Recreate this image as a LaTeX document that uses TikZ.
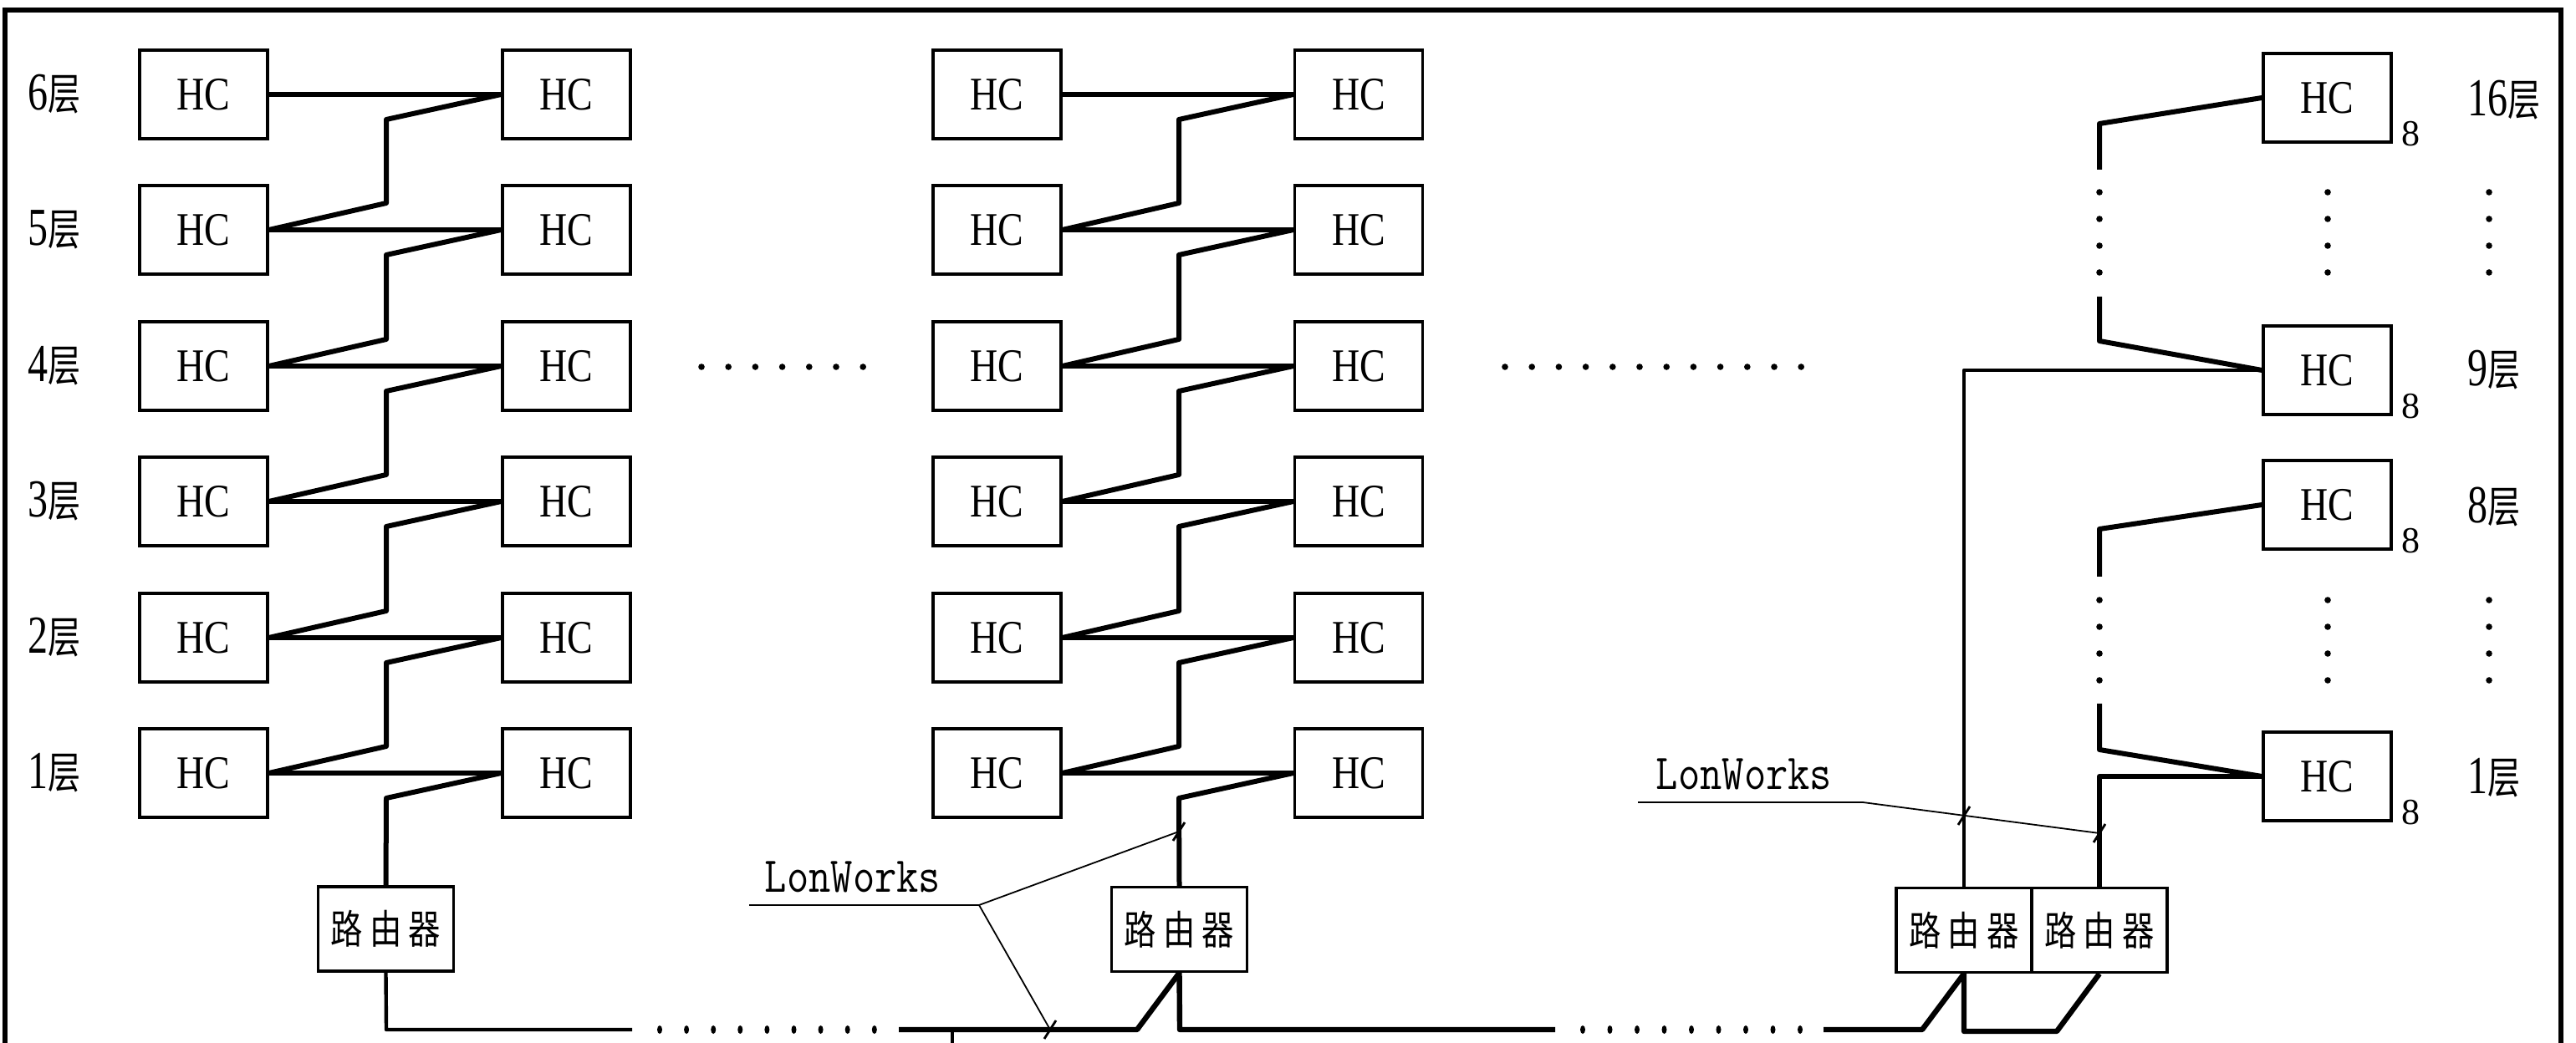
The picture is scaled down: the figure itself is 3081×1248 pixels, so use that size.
\documentclass[tikz,border=0pt]{standalone}
\usepackage{fontspec}
\usepackage{graphicx}
\newfontfamily\cjk{Noto Sans CJK SC}
\newfontfamily\ser{Liberation Serif}
\newcommand{\flr}[1]{\scalebox{0.75}[1]{{\ser\fontsize{16}{16}\selectfont #1}{\cjk\fontsize{13}{13}\selectfont 层}}}
\newcommand{\rtr}{\scalebox{0.8}[1]{\cjk\fontsize{12}{12}\selectfont 路\hspace{2.5pt}由\hspace{2.5pt}器}}
\newcommand{\lonw}{\scalebox{0.85}[1]{\ttfamily\fontsize{15}{15}\selectfont LonWorks}}
\newcommand{\hctext}{\scalebox{0.82}[1]{\ser\fontsize{14}{14}\selectfont HC}}
\begin{document}
\begin{tikzpicture}[x=0.25pt,y=-0.25pt,
  hc/.style={draw,line width=0.8pt,minimum width=38.25pt,minimum height=26.5pt,inner sep=0pt},
  router/.style={draw,line width=0.8pt,minimum width=40.5pt,minimum height=25.25pt,inner sep=0pt},
  lbl/.style={anchor=west,inner sep=0pt},
  sub/.style={inner sep=0pt,font=\ser\fontsize{11}{11}\selectfont},
  wire/.style={line width=1.5pt,line join=round},
  vwire/.style={line width=1.1pt,line join=round},
  bus/.style={line width=1.6pt,line join=round},
  leader/.style={line width=0.45pt},
  tickmark/.style={line width=0.7pt},
  frame/.style={line width=1.4pt}]
\useasboundingbox (0,0) rectangle (3081,1248);
\draw[frame] (6,1248) -- (6,12) -- (3063,12) -- (3063,1248);

% left labels
\foreach \n/\y in {6/113,5/275,4/438,3/600,2/763,1/925}
  \node[lbl] (fl\n) at (33,\y) {\flr{\n}};

% HC boxes, two left pairs
\foreach \n/\y in {6/113,5/275,4/438,3/600,2/763,1/925}{
  \node[hc] (A\n) at (243.5,\y) {\hctext};
  \node[hc] (B\n) at (677.5,\y) {\hctext};
  \node[hc] (C\n) at (1192.5,\y) {\hctext};
  \node[hc] (D\n) at (1625,\y) {\hctext};
  \draw[wire] (A\n.east) -- (B\n.west);
  \draw[wire] (C\n.east) -- (D\n.west);
}
% zigzags
\foreach \u/\l/\yu/\yl in {6/5/113/275,5/4/275/438,4/3/438/600,3/2/600/763,2/1/763/925}{
  \draw[wire] (B\u.west) -- (462,\yu+30) -- (462,\yl-32) -- (A\l.east);
  \draw[wire] (D\u.west) -- (1410,\yu+30) -- (1410,\yl-32) -- (C\l.east);
}

% horizontal dots between pairs
\foreach \i in {0,...,6} \fill ({839+32.2*\i},439) circle[radius=3.8];
\foreach \i in {0,...,11} \fill ({1800+32.2*\i},439) circle[radius=3.8];

% routers
\node[router] (R1) at (461.5,1111.5) {\rtr};
\node[router] (R2) at (1410.5,1112) {\rtr};
\node[router] (R3) at (2349,1113) {\rtr};
\node[router] (R4) at (2511,1113) {\rtr};

\draw[wire] (B1.west) -- (462,955) -- (R1.north);
\draw[wire] (D1.west) -- (1410,955) -- (R2.north);

% bus
\draw[vwire] (R1.south) -- (462,1232) -- (756,1232);
\foreach \i in {0,...,8} \fill ({789+32.1*\i},1232) ellipse[x radius=3,y radius=5];
\draw[bus] (1075,1232) -- (1360,1232) -- (R2.south);
\draw[bus] (R2.south) -- (1411,1232) -- (1860,1232);
\foreach \i in {0,...,8} \fill ({1893+32.5*\i},1232) ellipse[x radius=3,y radius=5];
\draw[bus] (2181,1232) -- (2299,1232) -- (R3.south);
\draw[bus] (R3.south) -- (2349,1234) -- (2460,1234) -- (R4.south);
\draw[vwire] (1139,1232) -- (1139,1248);

% right column
\node[hc] (H16) at (2783.5,117) {\hctext};
\node[hc] (H9) at (2783.5,443) {\hctext};
\node[hc] (H8) at (2783.5,604) {\hctext};
\node[hc] (H1) at (2783.5,929) {\hctext};
\foreach \h in {H16,H9,H8,H1}
  \node[sub] at ([shift={(22,-12)}]\h.south east) {8};
\node[lbl] (fr16) at (2951,120) {\flr{16}};
\node[lbl] (fr9) at (2951,443) {\flr{9}};
\node[lbl] (fr8) at (2951,607) {\flr{8}};
\node[lbl] (fr1) at (2951,931) {\flr{1}};

\draw[wire] (H16.west) -- (2511,148) -- (2511,203);
\draw[wire] (2511,355) -- (2511,408) -- (H9.west);
\draw[vwire] (R3.north) -- (2349,443) -- (H9.west);
\draw[wire] (H8.west) -- (2511,633) -- (2511,690);
\draw[wire] (2511,842) -- (2511,897) -- (H1.west);
\draw[wire] (R4.north) -- (2511,929) -- (H1.west);
\foreach \x in {2511,2784,2977}{
  \foreach \y in {230,262,294,326,718,750,782,814}
    \fill (\x,\y) circle[radius=3.8];
}

% LonWorks labels
\node[inner sep=0pt] (L1) at (1020,1049) {\lonw};
\coordinate (u1a) at (896,1083);
\coordinate (u1b) at (1171,1083);
\coordinate (t1) at (1410,995);
\coordinate (t2) at (1256,1232);
\draw[leader] (u1a) -- (u1b) -- (t1);
\draw[leader] (u1b) -- (t2);

\node[inner sep=0pt] (L2) at (2086,926) {\lonw};
\coordinate (u2a) at (1959,960);
\coordinate (u2b) at (2228,960);
\coordinate (t3) at (2349,976);
\coordinate (t4) at (2511,997);
\draw[leader] (u2a) -- (u2b) -- (t4);

\foreach \t in {t1,t2,t3,t4}
  \draw[tickmark] ([shift={(-7,11)}]\t) -- ([shift={(7,-11)}]\t);
\end{tikzpicture}
\end{document}
